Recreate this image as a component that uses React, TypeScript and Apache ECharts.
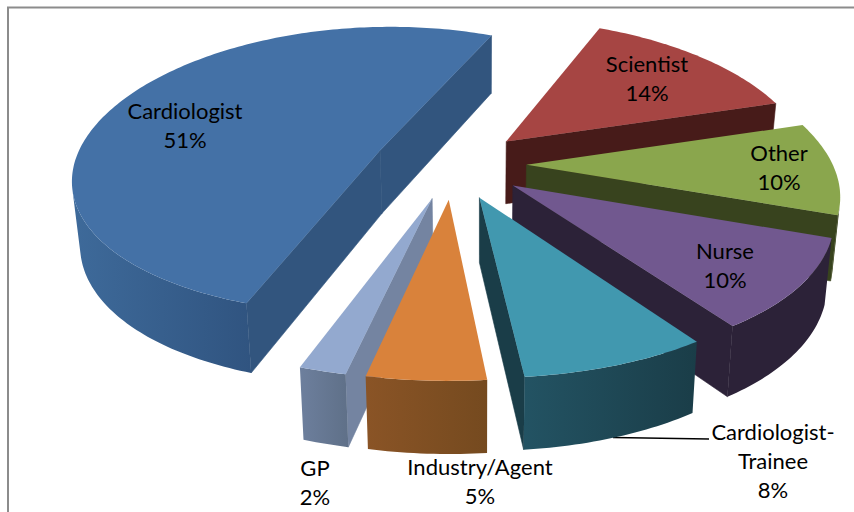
import React, { useEffect, useRef } from "react";
import * as echarts from "echarts";

// Pie order, clockwise from the start angle
const categories = ["Scientist", "Other", "Nurse", "Cardiologist-\nTrainee", "Industry/Agent", "GP", "Cardiologist"];
const values = [14, 10, 10, 8, 5, 2, 51];

const topColors = ["#A64543", "#8AA64D", "#71588F", "#4198AF", "#D9823B", "#93A9CF", "#4471A6"];
const radialColors = ["#471B19", "#38431E", "#2C2238", "#1A3D48", "#7A4B20", "#7484A1", "#32557E"];
const arcFrom = ["#5A2422", "#454F24", "#2C2238", "#235363", "#8A5426", "#6D7F9D", "#3E6A9A"];
const arcTo = ["#471B19", "#38431E", "#2C2238", "#1A3D48", "#754A1F", "#5F7088", "#305480"];
const explode = [0.24, 0.24, 0.24, 0.24, 0.24, 0.24, 0.26];
const labelCenters: number[][] = [[647, 78], [779, 167], [725, 265], [773, 460], [480, 481], [315, 482], [185, 125]];
const drawOrder = [6, 0, 1, 2, 5, 4, 3];

// Projection of the pie plane
const START = 23, CX = 453, CY = 164, A = 306, B = 144.6, K = 0.14, KX = 0.175;
const FONT = '22px Lato, "Open Sans", sans-serif';
const total = values.reduce((s, v) => s + v, 0);

const starts: number[] = [];
values.reduce((acc, v, i) => { starts[i] = acc; return acc + (v / total) * 360; }, START);

const rad = (d: number) => (d * Math.PI) / 180;
const project = (X: number, Y: number) => [CX + (A * X) / (1 - KX * Y), CY + (B * Y) / (1 - K * Y)];
const drop = (p: number[]) => [480 + (p[0] - 480) * 0.98, p[1] + 56 + 0.045 * p[1]];
const area = (pts: number[][]) =>
  pts.reduce((s, p, i) => {
    const q = pts[(i + 1) % pts.length];
    return s + p[0] * q[1] - q[0] * p[1];
  }, 0);

function renderSlice(_params: any, api: any) {
  const value = api.value(0);
  const i = api.value(1);
  const t0 = starts[i];
  const t1 = t0 + (value / total) * 360;
  const mid = rad((t0 + t1) / 2);
  const ex = explode[i] * Math.sin(mid);
  const ey = -explode[i] * Math.cos(mid);
  const apex = project(ex, ey);
  const steps = Math.max(6, Math.round(t1 - t0));
  const arc: number[][] = [];
  for (let s = 0; s <= steps; s++) {
    const t = rad(t0 + ((t1 - t0) * s) / steps);
    arc.push(project(ex + Math.sin(t), ey - Math.cos(t)));
  }
  const children: any[] = [];
  const quad = (a: number[], b: number[]) => [a, b, drop(b), drop(a)];
  const z = { silent: true };
  [[apex, arc[0]], [arc[arc.length - 1], apex]].forEach(([a, b]) => {
    const q = quad(a, b);
    if (area(q) < 0) {
      children.push({
        type: "polygon",
        shape: { points: q },
        style: { fill: radialColors[i], stroke: radialColors[i], lineWidth: 0.6 },
        ...z,
      });
    }
  });
  const run: number[][] = [];
  for (let s = 0; s < steps; s++) {
    if (area(quad(arc[s], arc[s + 1])) < 0) {
      if (!run.length) run.push(arc[s]);
      run.push(arc[s + 1]);
    }
  }
  if (run.length > 1) {
    const pts = [...run, ...run.slice().reverse().map(drop)];
    children.push({
      type: "polygon",
      shape: { points: pts },
      style: {
        fill: new echarts.graphic.LinearGradient(0, 0, 1, 0, [
          { offset: 0, color: arcFrom[i] },
          { offset: 1, color: arcTo[i] },
        ]),
      },
      ...z,
    });
  }
  children.push({ type: "polygon", shape: { points: [apex, ...arc] }, style: { fill: topColors[i] }, ...z });
  return { type: "group", children };
}

function renderLabel(_params: any, api: any) {
  const i = api.value(1);
  return {
    type: "text",
    silent: true,
    style: {
      text: `${categories[i]}\n${api.value(0)}%`,
      x: labelCenters[i][0],
      y: labelCenters[i][1],
      fill: "#000",
      font: FONT,
      align: "center",
      verticalAlign: "middle",
      lineHeight: 29,
    },
  };
}

export default function App() {
  const ref = useRef<HTMLDivElement>(null);
  useEffect(() => {
    const chart = echarts.init(ref.current!, null, { renderer: "svg" });
    const data = drawOrder.map((i) => [values[i], i]);
    chart.setOption({
      animation: false,
      backgroundColor: "#fff",
      graphic: [
        { type: "polyline", z: 0, silent: true, shape: { points: [[8, 512], [8, 7.5], [854, 7.5]] }, style: { stroke: "#8c8c8c", lineWidth: 2, fill: "none" } },
        { type: "line", z: 0, silent: true, shape: { x1: 613, y1: 437.5, x2: 709, y2: 439 }, style: { stroke: "#000", lineWidth: 1.5 } },
      ],
      series: [
        { type: "custom", coordinateSystem: "none", renderItem: renderSlice, data, z: 2 },
        { type: "custom", coordinateSystem: "none", renderItem: renderLabel, data, z: 3 },
      ],
    });
    return () => chart.dispose();
  }, []);
  return <div ref={ref} style={{ position: "absolute", left: 0, top: 0, width: 854, height: 512 }} />;
}
